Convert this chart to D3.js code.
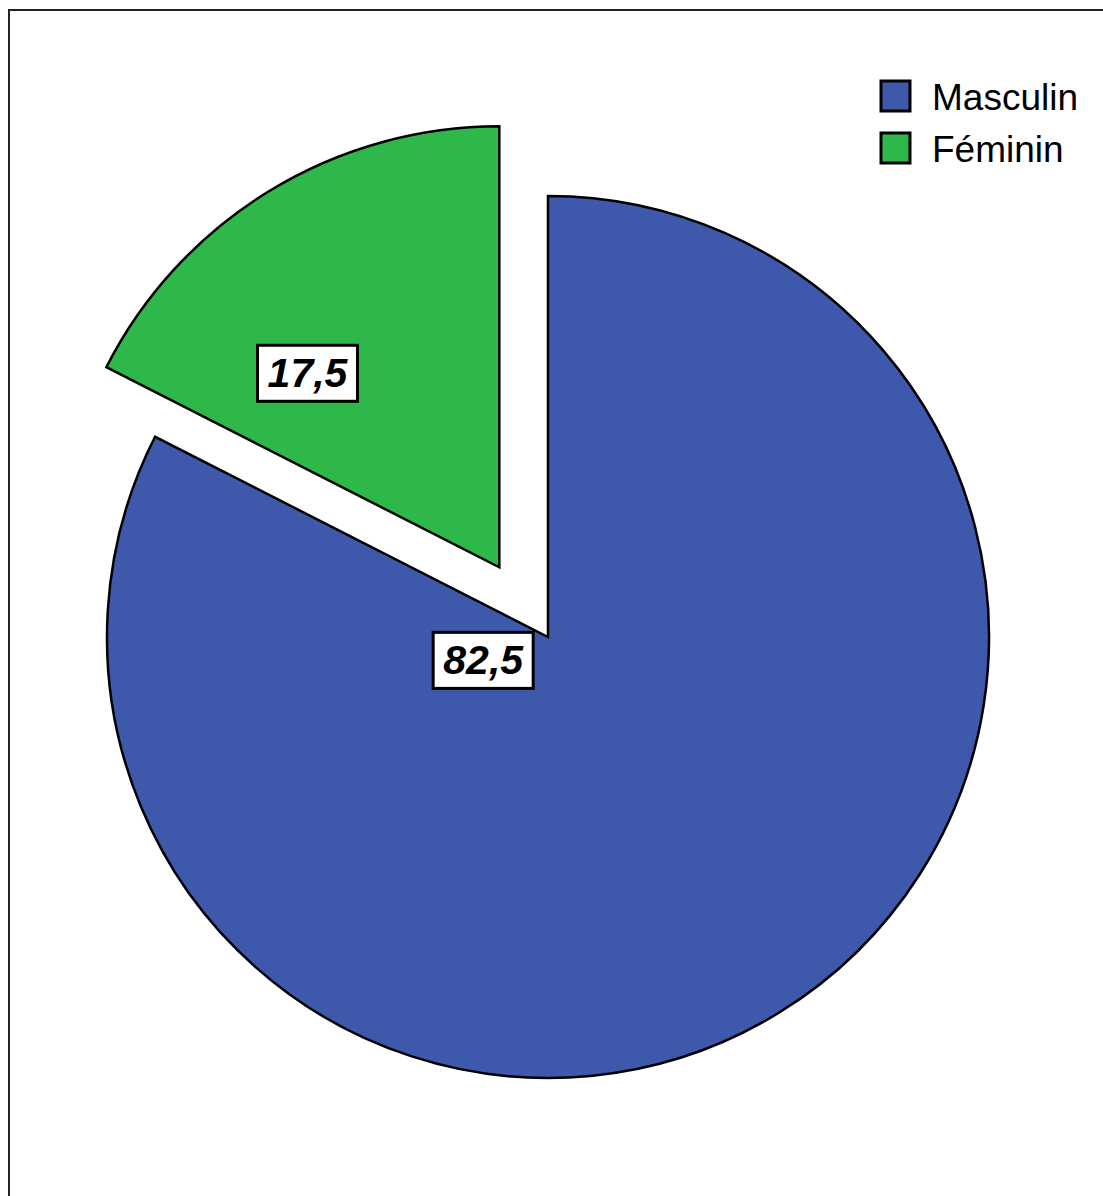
<!DOCTYPE html>
<html>
<head>
<meta charset="utf-8">
<script src="https://cdn.jsdelivr.net/npm/d3@7"></script>
<style>
  body { margin: 0; background: #fff; }
  svg text { font-family: Arial, "Liberation Sans", sans-serif; }
</style>
</head>
<body>
<div class="app"></div>
<script>
'use strict'

var width = 1103;
var height = 1196;

// data
var categories = ["Masculin", "Féminin"];
var values = [82.5, 17.5];
var labels = ["82,5", "17,5"];
var colors = ["#3e58ac", "#2eb84a"];
var exploded = [false, true];

var cx = 548, cy = 637, radius = 441;
var explodeDist = 85;
// label anchor relative to slice centre, in radius units (SPSS-like placement)
var labelPos = [[-0.147, 0.053], [-0.435, -0.44]];

var svg = d3.select(".app")
  .append("svg")
  .attr("width", width)
  .attr("height", height);

// cadre
svg.append("path")
  .attr("d", "M9," + (height + 5) + "V10H" + (width + 5))
  .attr("fill", "none")
  .attr("stroke", "#222")
  .attr("stroke-width", 2);

var pie = d3.pie()
  .sort(null)
  .value(function(d) { return d; });

var arcs = pie(values);

var arc = d3.arc()
  .innerRadius(0)
  .outerRadius(radius);

var g = svg.append("g")
  .attr("transform", "translate(" + cx + "," + cy + ")");

var slices = g.selectAll("g.slice")
  .data(arcs)
  .enter()
  .append("g")
  .attr("class", "slice")
  .attr("transform", function(d, i) {
    if (!exploded[i]) return null;
    // SPSS pousse la part un peu plus vers la gauche que l'angle médian
    var mid = (d.startAngle + d.endAngle) / 2 - 0.06;
    return "translate(" + (Math.sin(mid) * explodeDist) + "," + (-Math.cos(mid) * explodeDist) + ")";
  });

slices.append("path")
  .attr("d", arc)
  .attr("fill", function(d, i) { return colors[i]; })
  .attr("stroke", "#000")
  .attr("stroke-width", 2.5)
  .attr("stroke-linejoin", "miter");

// étiquettes
slices.each(function(d, i) {
  var s = d3.select(this);
  var lx = labelPos[i][0] * radius;
  var ly = labelPos[i][1] * radius;
  s.append("rect")
    .attr("x", lx - 50)
    .attr("y", ly - 28)
    .attr("width", 100)
    .attr("height", 56)
    .attr("fill", "#fff")
    .attr("stroke", "#000")
    .attr("stroke-width", 3);
  s.append("text")
    .attr("x", lx)
    .attr("y", ly + 14)
    .attr("text-anchor", "middle")
    .attr("font-size", 41)
    .attr("font-weight", "bold")
    .attr("font-style", "italic")
    .attr("fill", "#000")
    .text(labels[i]);
});

// légende
var legend = svg.append("g")
  .attr("transform", "translate(881,81)");

var items = legend.selectAll("g")
  .data(categories)
  .enter()
  .append("g")
  .attr("transform", function(d, i) { return "translate(0," + (i * 52) + ")"; });

items.append("rect")
  .attr("width", 29)
  .attr("height", 30)
  .attr("fill", function(d, i) { return colors[i]; })
  .attr("stroke", "#000")
  .attr("stroke-width", 3);

items.append("text")
  .attr("x", 51)
  .attr("y", 29)
  .attr("font-size", 37)
  .attr("fill", "#000")
  .text(function(d) { return d; });
</script>
</body>
</html>
